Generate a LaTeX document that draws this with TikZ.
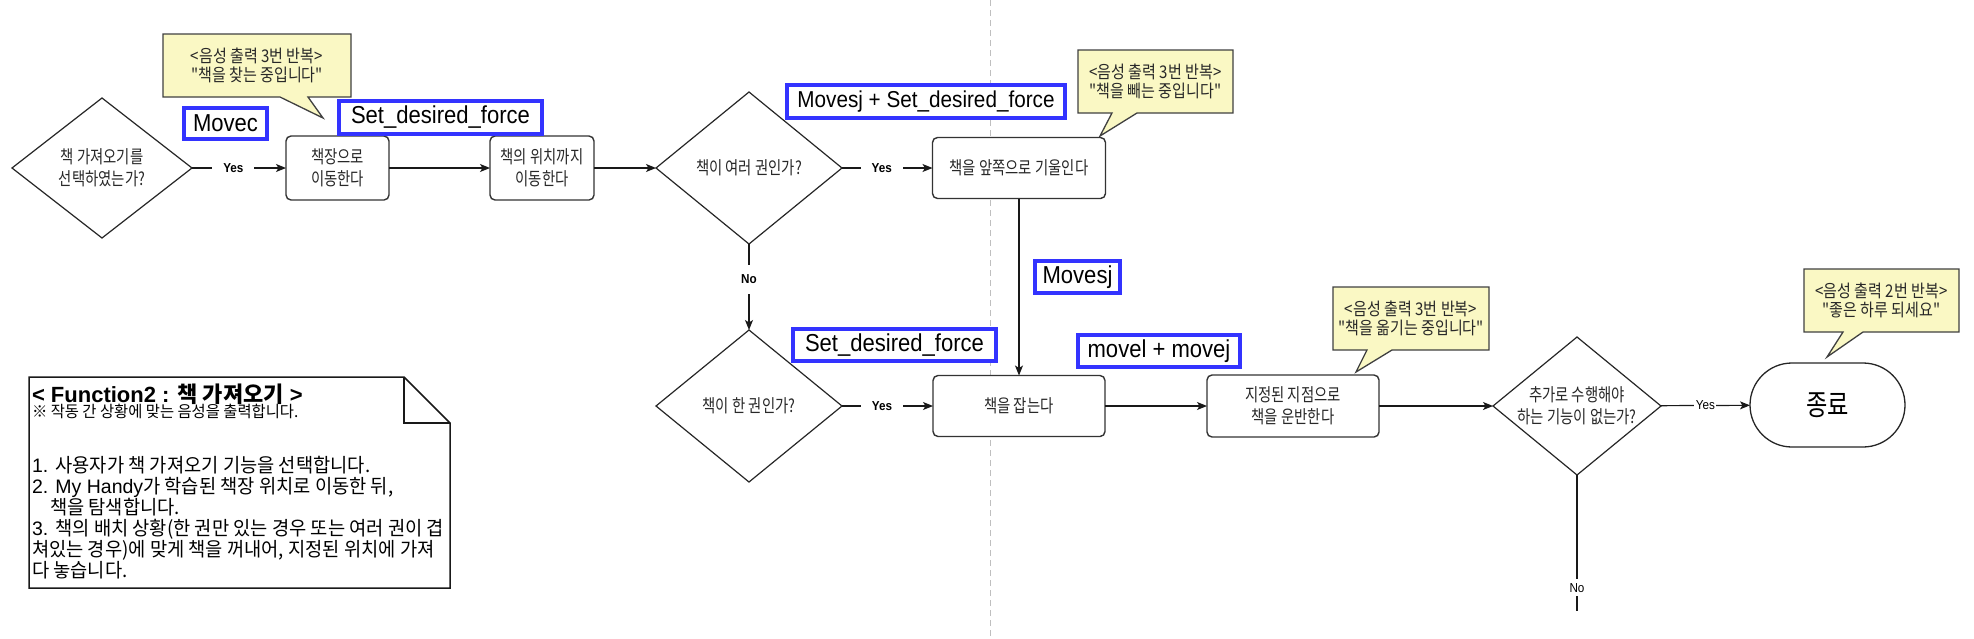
\documentclass[tikz,border=0pt]{standalone}
\usepackage{fontspec}
\setmainfont{Liberation Sans}[FakeStretch=0.9]
\newfontfamily\arl{Liberation Sans}
\newfontfamily\krbox{Noto Sans CJK KR}[FakeStretch=0.8]
\newfontfamily\krcall{Noto Sans CJK KR}[FakeStretch=0.86]
\newfontfamily\krnote{Noto Sans CJK KR}[FakeStretch=0.96]
\newfontfamily\krtitle{Noto Sans CJK KR}
\usetikzlibrary{shapes.geometric,arrows.meta,backgrounds,calc}
\definecolor{lblue}{RGB}{51,51,255}
\definecolor{callfill}{RGB}{250,248,196}
\definecolor{txtgray}{RGB}{40,40,40}
\begin{document}
\begin{tikzpicture}[x=1pt,y=-1pt,
  nb/.style={inner sep=0pt,outer sep=0pt},
  procbox/.style={nb,draw=black!80,line width=1.4pt,rounded corners=5pt,fill=white,align=center,text=txtgray,font=\krbox\fontsize{18}{22}\selectfont},
  decbox/.style={nb,diamond,draw=black!85,line width=1.2pt,fill=white},
  dectxt/.style={nb,align=center,text=txtgray,font=\krbox\fontsize{18}{21.5}\selectfont},
  termbox/.style={nb,draw=black!85,line width=1.3pt,rounded corners=42pt,fill=white,font=\krbox\fontsize{29}{32}\selectfont,text=black},
  bluebox/.style={nb,draw=lblue,line width=4pt,fill=white,font=\fontsize{24.5}{27}\selectfont},
  callt/.style={nb,align=center,text=txtgray,font=\krcall\fontsize{17.5}{19}\selectfont},
  callshape/.style={fill=callfill,draw=black!75,line width=1.3pt},
  conn/.style={line width=1.2pt,draw=black!90,-{Stealth[length=10pt,width=8pt,inset=2.5pt]}},
  lineonly/.style={line width=1.2pt,draw=black!90},
  yesb/.style={nb,fill=white,font=\bfseries\fontsize{13}{15}\selectfont,inner xsep=11pt,inner ysep=6pt},
  yesr/.style={nb,fill=white,font=\fontsize{13}{15}\selectfont,inner xsep=1.5pt,inner ysep=3pt},
  notebox/.style={fill=white,draw=black!90,line width=1.5pt},
  notetxt/.style={nb,anchor=base west,font=\krnote\fontsize{19.5}{21}\selectfont,text=black},
]
\useasboundingbox (0,0) rectangle (1974,638);

% dashed separator
\draw[gray!50,line width=0.8pt,dash pattern=on 6pt off 4pt] (990,0) -- (990,638);

% decisions
\node[decbox,minimum width=180pt,minimum height=140pt] (d1) at (102,168) {};
\node[dectxt] (d1t) at (d1.center) {책 가져오기를\\선택하였는가?};
\node[decbox,minimum width=186pt,minimum height=152pt] (d2) at (749,168) {};
\node[dectxt] (d2t) at (d2.center) {책이 여러 권인가?};
\node[decbox,minimum width=186pt,minimum height=152pt] (d3) at (749,406) {};
\node[dectxt] (d3t) at (d3.center) {책이 한 권인가?};
\node[decbox,minimum width=168pt,minimum height=138pt] (d4) at (1577,406) {};
\node[dectxt] (d4t) at (d4.center) {추가로 수행해야\\하는 기능이 없는가?};

% processes
\node[procbox,minimum width=103pt,minimum height=64pt] (b1) at (337.5,168) {책장으로\\이동한다};
\node[procbox,minimum width=104pt,minimum height=64pt] (b2) at (542,168) {책의 위치까지\\이동한다};
\node[procbox,minimum width=173pt,minimum height=61pt] (b3) at (1019,168) {책을 앞쪽으로 기울인다};
\node[procbox,minimum width=172pt,minimum height=61pt] (b4) at (1019,406) {책을 잡는다};
\node[procbox,minimum width=172pt,minimum height=62pt] (b5) at (1293,406) {지정된 지점으로\\책을 운반한다};
\node[termbox,minimum width=155pt,minimum height=84pt] (end) at (1827.5,405) {종료};

% blue function labels
\node[bluebox,minimum width=83pt,minimum height=31pt] (l1) at (225.5,123.5) {Movec};
\node[bluebox,minimum width=203pt,minimum height=33pt] (l2) at (440.5,117.5) {Set\_desired\_force};
\node[bluebox,minimum width=278pt,minimum height=33pt,font=\fontsize{23}{26}\selectfont] (l3) at (926,101.5) {Movesj + Set\_desired\_force};
\node[bluebox,minimum width=85pt,minimum height=32pt] (l4) at (1077.5,277) {Movesj};
\node[bluebox,minimum width=203pt,minimum height=32pt] (l5) at (894.5,345) {Set\_desired\_force};
\node[bluebox,minimum width=162pt,minimum height=32pt] (l6) at (1159,351) {movel + movej};

% callouts
\node[callt,minimum width=188pt,minimum height=63pt] (c1) at (257,65.5) {<음성 출력 3번 반복>\\"책을 찾는 중입니다"};
\node[callt,minimum width=155pt,minimum height=63pt] (c2) at (1155.5,81.5) {<음성 출력 3번 반복>\\"책을 빼는 중입니다"};
\node[callt,minimum width=156pt,minimum height=63pt] (c3) at (1411,318.5) {<음성 출력 3번 반복>\\"책을 옮기는 중입니다"};
\node[callt,minimum width=155pt,minimum height=63pt] (c4) at (1881.5,300.5) {<음성 출력 2번 반복>\\"좋은 하루 되세요"};
\coordinate (t1) at (323,118);
\coordinate (t2) at (1100,136);
\coordinate (t3) at (1356,372);
\coordinate (t4) at (1827,357);
\begin{scope}[on background layer]
\draw[callshape] (c1.north west) -- (c1.north east) -- (c1.south east) -- ($(c1.south west)+(145,0)$) -- (t1) -- ($(c1.south west)+(117,0)$) -- (c1.south west) -- cycle;
\draw[callshape] (c2.north west) -- (c2.north east) -- (c2.south east) -- ($(c2.south west)+(59,0)$) -- (t2) -- ($(c2.south west)+(34,0)$) -- (c2.south west) -- cycle;
\draw[callshape] (c3.north west) -- (c3.north east) -- (c3.south east) -- ($(c3.south west)+(59,0)$) -- (t3) -- ($(c3.south west)+(34,0)$) -- (c3.south west) -- cycle;
\draw[callshape] (c4.north west) -- (c4.north east) -- (c4.south east) -- ($(c4.south west)+(59,0)$) -- (t4) -- ($(c4.south west)+(39,0)$) -- (c4.south west) -- cycle;
\end{scope}

% connectors
\draw[conn] (d1) -- node[yesb,pos=0.44] (y1) {Yes} (b1);
\draw[conn] (b1) -- (b2);
\draw[conn] (b2) -- (d2);
\draw[conn] (d2) -- node[yesb,pos=0.44] (y2) {Yes} (b3);
\draw[conn] (d2) -- node[yesb,pos=0.41,inner xsep=4pt,inner ysep=10pt] (n1) {No} (d3);
\draw[conn] (d3) -- node[yesb,pos=0.44] (y3) {Yes} (b4);
\draw[conn] (b3) -- (b4);
\draw[conn] (b4) -- (b5);
\draw[conn] (b5) -- (d4);
\draw[conn] (d4) -- node[yesr,pos=0.5] (y4) {Yes} (end);
\coordinate (nend) at (1577,611);
\draw[lineonly] (d4) -- node[yesr,pos=0.83,inner ysep=4pt] (n2) {No} (nend);

% note
\node[nb,minimum width=421pt,minimum height=211pt] (note) at (239.5,482.5) {};
\draw[notebox] (note.north west) -- ($(note.north east)+(-46,0)$) -- ($(note.north east)+(0,46)$) -- (note.south east) -- (note.south west) -- cycle;
\draw[black!90,line width=1.5pt] ($(note.north east)+(-46,0)$) -- ($(note.north east)+(-46,46)$) -- ($(note.north east)+(0,46)$);
\node[notetxt,font=\bfseries\fontsize{22}{24}\selectfont] (ntitle) at (32,402) {{\arl < Function2 : }{\krtitle 책 가져오기}{\arl\ >}};
\node[notetxt,font=\krnote\fontsize{16}{18}\selectfont] (nsub) at (32,417) {※ 작동 간 상황에 맞는 음성을 출력합니다.};
\node[notetxt] (nb1) at (32,472) {{\arl 1. }사용자가 책 가져오기 기능을 선택합니다.};
\node[notetxt] (nb2) at (32,493) {{\arl 2. My Handy}가 학습된 책장 위치로 이동한 뒤,};
\node[notetxt] (nb3) at (50,514) {책을 탐색합니다.};
\node[notetxt] (nb4) at (32,535) {{\arl 3. }책의 배치 상황(한 권만 있는 경우 또는 여러 권이 겹};
\node[notetxt] (nb5) at (32,556) {쳐있는 경우)에 맞게 책을 꺼내어, 지정된 위치에 가져};
\node[notetxt] (nb6) at (32,577) {다 놓습니다.};
\end{tikzpicture}
\end{document}
